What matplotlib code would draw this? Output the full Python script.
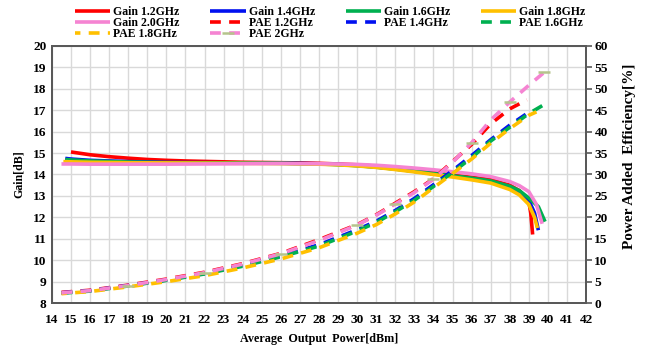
import matplotlib
matplotlib.use("Agg")
import matplotlib.pyplot as plt

plt.rcParams['font.family'] = ['Liberation Serif', 'DejaVu Serif']
plt.rcParams['font.weight'] = 'bold'

# ---------------- data ----------------
x_g12 = [15, 16, 17, 18, 19, 20, 21, 22, 23, 24, 25, 26, 27, 28, 29, 30, 31, 32, 33, 34, 35, 36, 37, 38, 38.5, 39, 39.1, 39.2]
g12 = [15.05, 14.92, 14.83, 14.76, 14.7, 14.66, 14.63, 14.61, 14.59, 14.57, 14.56, 14.55, 14.54, 14.52, 14.49, 14.45, 14.39, 14.31, 14.21, 14.09, 13.97, 13.87, 13.76, 13.5, 13.25, 12.75, 12.2, 11.2]

x_g14 = [14.7, 15, 16, 18, 20, 22, 24, 26, 28, 29, 30, 31, 32, 33, 34, 35, 36, 37, 38, 38.5, 39, 39.3, 39.5]
g14 = [14.75, 14.72, 14.66, 14.6, 14.56, 14.55, 14.54, 14.53, 14.5, 14.47, 14.42, 14.35, 14.26, 14.15, 14.03, 13.92, 13.8, 13.65, 13.4, 13.2, 12.8, 12.2, 11.4]

x_g16 = [14.7, 15, 16, 18, 20, 22, 24, 26, 28, 29, 30, 31, 32, 33, 34, 35, 36, 37, 38, 38.5, 39, 39.5, 39.85]
g16 = [14.7, 14.68, 14.63, 14.58, 14.55, 14.54, 14.53, 14.52, 14.49, 14.46, 14.41, 14.34, 14.25, 14.15, 14.04, 13.94, 13.83, 13.7, 13.45, 13.25, 12.9, 12.5, 11.8]

x_g18 = [14.6, 15, 16, 18, 20, 22, 24, 26, 28, 29, 30, 31, 32, 33, 34, 35, 36, 37, 38, 38.5, 39, 39.3, 39.45]
g18 = [14.6, 14.59, 14.57, 14.55, 14.54, 14.53, 14.52, 14.51, 14.48, 14.45, 14.4, 14.33, 14.23, 14.12, 14.0, 13.88, 13.75, 13.6, 13.3, 13.05, 12.6, 12.0, 11.5]

x_g20 = [14.5, 15, 16, 18, 20, 22, 24, 26, 28, 29, 30, 31, 32, 33, 34, 35, 36, 37, 38, 38.5, 39, 39.4, 39.7]
g20 = [14.49, 14.49, 14.48, 14.48, 14.48, 14.49, 14.5, 14.51, 14.5, 14.49, 14.47, 14.43, 14.37, 14.3, 14.22, 14.13, 14.03, 13.9, 13.67, 13.48, 13.2, 12.6, 11.7]

x_p12 = [14.5, 16, 18, 20, 22, 24, 26, 28, 30, 31, 32, 33, 34, 35, 36, 37, 38, 38.9]
p12 = [2.5, 3.0, 4.2, 5.6, 7.2, 9.2, 11.6, 14.8, 18.3, 20.6, 23.3, 26.0, 29.0, 33.0, 37.0, 41.8, 45.3, 47.4]

x_p14 = [14.5, 16, 18, 20, 22, 24, 26, 28, 30, 31, 32, 33, 34, 35, 36, 37, 38, 38.9]
p14 = [2.4, 2.9, 4.1, 5.4, 6.9, 8.8, 11.0, 13.6, 17.1, 19.1, 21.6, 24.4, 27.6, 30.9, 34.4, 38.1, 41.5, 44.2]

x_p16 = [14.5, 16, 18, 20, 22, 24, 26, 28, 30, 31, 32, 33, 34, 35, 36, 37, 38, 39, 39.8]
p16 = [2.3, 2.8, 4.0, 5.3, 6.8, 8.6, 10.8, 13.3, 16.8, 18.8, 21.3, 24.0, 27.2, 30.5, 33.9, 37.8, 41.0, 44.2, 46.3]

x_p18 = [14.5, 16, 18, 20, 22, 24, 26, 28, 30, 31, 32, 33, 34, 35, 36, 37, 38, 39, 39.4]
p18 = [2.2, 2.7, 3.8, 5.0, 6.4, 8.2, 10.3, 12.9, 16.3, 18.3, 20.8, 23.6, 26.9, 30.2, 33.6, 37.3, 40.7, 43.8, 44.6]

x_p20 = [14.5, 16, 18, 20, 22, 24, 26, 28, 30, 31, 32, 33, 34, 35, 36, 37, 38, 39, 39.8]
p20 = [2.4, 2.9, 4.1, 5.5, 7.1, 9.1, 11.5, 14.6, 18.2, 20.5, 23.1, 25.8, 28.9, 32.8, 37.4, 42.7, 46.9, 50.8, 53.8]

xticks = list(range(14, 43))
gain_ticks = list(range(8, 21))
pae_ticks = list(range(0, 61, 5))

# ---------------- styling ----------------
C_RED = '#ff0000'
C_BLUE = '#0010f0'
C_GREEN = '#00b050'
C_YEL = '#ffc000'
C_PINK = '#f584d2'
C_MARK = '#b5c48c'

fig = plt.figure(figsize=(6.49, 3.5), dpi=100)
ax = fig.add_axes([0.080, 0.134, 0.823, 0.735])
ax2 = ax.twinx()

lw = 2.6
dash = (3.0, 2.3)

h = {}
h['g12'], = ax.plot(x_g12, g12, color=C_RED, lw=lw, label='Gain 1.2GHz', solid_capstyle='butt')
h['g14'], = ax.plot(x_g14, g14, color=C_BLUE, lw=lw, label='Gain 1.4GHz', solid_capstyle='butt')
h['g16'], = ax.plot(x_g16, g16, color=C_GREEN, lw=lw, label='Gain 1.6GHz', solid_capstyle='butt')
h['g18'], = ax.plot(x_g18, g18, color=C_YEL, lw=lw, label='Gain 1.8GHz', solid_capstyle='butt')
h['g20'], = ax.plot(x_g20, g20, color=C_PINK, lw=lw, label='Gain 2.0GHz', solid_capstyle='butt')

h['p12'], = ax2.plot(x_p12, p12, color=C_RED, lw=lw, ls=(0, dash), label='PAE 1.2GHz')
h['p14'], = ax2.plot(x_p14, p14, color=C_BLUE, lw=lw, ls=(0, dash), label='PAE 1.4GHz')
h['p16'], = ax2.plot(x_p16, p16, color=C_GREEN, lw=lw, ls=(0, dash), label='PAE 1.6GHz')
h['p18'], = ax2.plot(x_p18, p18, color=C_YEL, lw=lw, ls=(1.5, dash), label='PAE 1.8GHz')
h['p20'], = ax2.plot(x_p20, p20, color=C_PINK, lw=lw, ls=(0, dash), label='PAE 2GHz',
                     marker='_', markersize=9, markeredgewidth=1.8,
                     markeredgecolor=C_MARK, markevery=[2, 4, 6, 8, 10, 12, 14, 16, 18])

ax.set_xlim(14, 42)
ax.set_ylim(8, 20)
ax2.set_ylim(0, 60)
ax.set_xticks(xticks)
ax.set_yticks(gain_ticks)
ax2.set_yticks(pae_ticks)

ax.grid(True, color='#d9d9d9', lw=1.0)
ax.set_axisbelow(True)

for a in (ax, ax2):
    for s in a.spines.values():
        s.set_color('#595959')
        s.set_linewidth(1.4)

ax.tick_params(axis='both', length=0, labelsize=9.6, pad=4, colors='black')
ax.tick_params(axis='x', pad=8)
ax2.tick_params(axis='y', length=4, width=1.2, color='#595959', labelsize=9.6, pad=2)

for lab in ax.get_xticklabels() + ax.get_yticklabels() + ax2.get_yticklabels():
    lab.set_fontweight('bold')

ax.set_xlabel('Average  Output  Power[dBm]', fontsize=8.7, fontweight='bold', labelpad=5)
ax.set_ylabel('Gain[dB]', fontsize=8.6, fontweight='bold')
ax.yaxis.set_label_coords(-0.051, 0.5)
ax2.set_ylabel('Power Added  Efficiency[%]', fontsize=11, fontweight='bold')
ax2.yaxis.set_label_coords(1.069, 0.572)

order = ['g12', 'g20', 'p18', 'g14', 'p12', 'p20', 'g16', 'p14', 'g18', 'p16']
leg = fig.legend([h[k] for k in order], [h[k].get_label() for k in order],
                 ncol=4, loc='upper left', bbox_to_anchor=(75 / 649, 1 - 6 / 350), frameon=False,
                 prop={'family': 'Liberation Serif', 'weight': 'bold', 'size': 8.5},
                 handlelength=3.0, handletextpad=0.25, columnspacing=2.6,
                 labelspacing=-0.1, borderaxespad=0.0, borderpad=0.0)

fig.savefig('out.png', dpi=100)
